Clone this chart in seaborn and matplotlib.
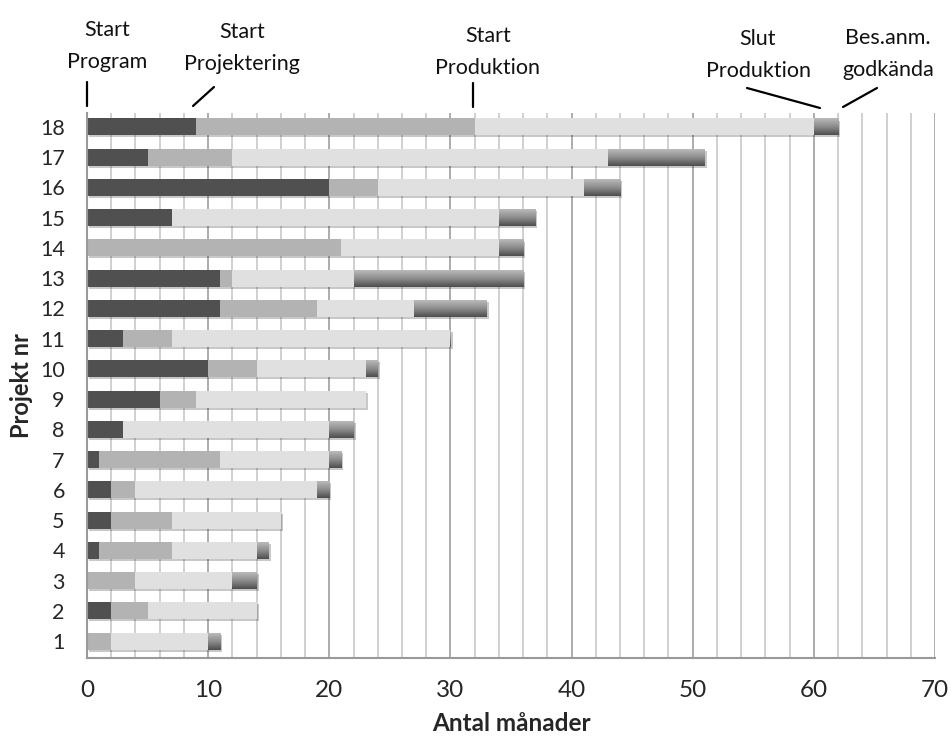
import matplotlib

matplotlib.use("Agg")
import matplotlib.pyplot as plt
import numpy as np
import pandas as pd
import seaborn as sns
from matplotlib.colors import LinearSegmentedColormap
from matplotlib.lines import Line2D
from matplotlib.patheffects import Normal, SimplePatchShadow
from matplotlib.ticker import MultipleLocator

# months per phase, project 1..18
projects = list(range(1, 19))
program = [0, 2, 0, 1, 2, 2, 1, 3, 6, 10, 3, 11, 11, 0, 7, 20, 5, 9]
projektering = [2, 3, 4, 6, 5, 2, 10, 0, 3, 4, 4, 8, 1, 21, 0, 4, 7, 23]
produktion = [8, 9, 8, 7, 9, 15, 9, 17, 14, 9, 23, 8, 10, 13, 27, 17, 31, 28]
godkannande = [1, 0, 2, 1, 0, 1, 1, 2, 0, 1, 0, 6, 14, 2, 3, 3, 8, 2]

milestones = ["Start\nProgram", "Start\nProjektering", "Start\nProduktion",
              "Slut\nProduktion", "Bes.anm.\ngodkända"]

DARK = "#505050"
MID = "#b3b3b3"
LIGHT = "#e0e0e0"
W, H = 952, 738


def px(x, y):
    return x / W, 1 - y / H


def main() -> None:
    sns.set_style("white")
    plt.rcParams["font.family"] = ["Lato", "DejaVu Sans"]

    ends = np.cumsum([program, projektering, produktion, godkannande], axis=0)
    df = pd.DataFrame({
        "project": [str(p) for p in projects],
        "program": ends[0],
        "projektering": ends[1],
        "produktion": ends[2],
        "godkand": ends[3],
    })
    order = [str(p) for p in reversed(projects)]

    fig = plt.figure(figsize=(W / 100, H / 100), dpi=100)
    l, b = px(87, 658)
    r, t = px(935, 113)
    ax = fig.add_axes([l, b, r - l, t - b])

    bar_kw = dict(data=df, y="project", order=order, orient="h", width=0.56,
                  saturation=1, linewidth=0, errorbar=None, ax=ax)

    # back layer: whole bar, later filled with a vertical gradient
    sns.barplot(x="godkand", color="#808080", **bar_kw)
    total_bars = list(ax.patches)
    for col, color in [("produktion", LIGHT), ("projektering", MID), ("program", DARK)]:
        sns.barplot(x=col, color=color, **bar_kw)

    grad = LinearSegmentedColormap.from_list("grad", ["#bababa", "#8c8c8c", "#4e4e4e"])
    for p in total_bars:
        p.set_zorder(0.8)
        p.set_path_effects([SimplePatchShadow(offset=(1.5, -1.5), alpha=0.25), Normal()])
        x0, y0 = p.get_x(), p.get_y()
        w, h = p.get_width(), p.get_height()
        if w <= 0:
            continue
        im = ax.imshow(np.linspace(0, 1, 64).reshape(-1, 1), cmap=grad, aspect="auto",
                       extent=(x0, x0 + w, y0 + h, y0), origin="upper",
                       interpolation="bilinear", zorder=0.9)
        im.set_clip_path(p)

    ax.set_xlim(0, 70)
    ax.set_ylim(17.56, -0.46)
    ax.xaxis.set_major_locator(MultipleLocator(10))
    ax.xaxis.set_minor_locator(MultipleLocator(2))
    ax.set_axisbelow(True)
    ax.grid(axis="x", which="minor", color="#cdcdcd", lw=1.3)
    ax.grid(axis="x", which="major", color="#a6a6a6", lw=1.3)
    ax.grid(axis="y", visible=False)

    for side in ["top", "right"]:
        ax.spines[side].set_visible(False)
    for side in ["left", "bottom"]:
        ax.spines[side].set_color("#9a9a9a")
        ax.spines[side].set_linewidth(1.5)

    ax.tick_params(axis="y", length=0, pad=16, labelsize=15.5)
    ax.tick_params(axis="x", which="major", length=5, width=1.3, color="#9a9a9a",
                   pad=11, labelsize=17.5)
    ax.tick_params(axis="x", which="minor", length=0)

    ax.set_xlabel("Antal månader", fontsize=17.5, fontweight="bold", labelpad=8)
    ax.set_ylabel("Projekt nr", fontsize=17, fontweight="bold", labelpad=5)

    # milestone labels above the chart
    label_pos = [(107, 46), (242, 48), (488, 52), (758, 55), (888, 54)]
    for text, (x, y) in zip(milestones, label_pos):
        fig.text(*px(x, y), text, ha="center", va="center", fontsize=15.5,
                 linespacing=1.7, color="#111111")
    pointers = [((87, 82), (87, 106)), ((193, 106), (214, 87)), ((473, 83), (473, 107)),
                ((747, 88), (820, 108)), ((843, 107), (877, 88))]
    for (x1, y1), (x2, y2) in pointers:
        fig.add_artist(Line2D([x1 / W, x2 / W], [1 - y1 / H, 1 - y2 / H],
                              transform=fig.transFigure, color="black", lw=1.6))

    fig.savefig("out.png", dpi=100)
    plt.close(fig)


if __name__ == "__main__":
    main()
